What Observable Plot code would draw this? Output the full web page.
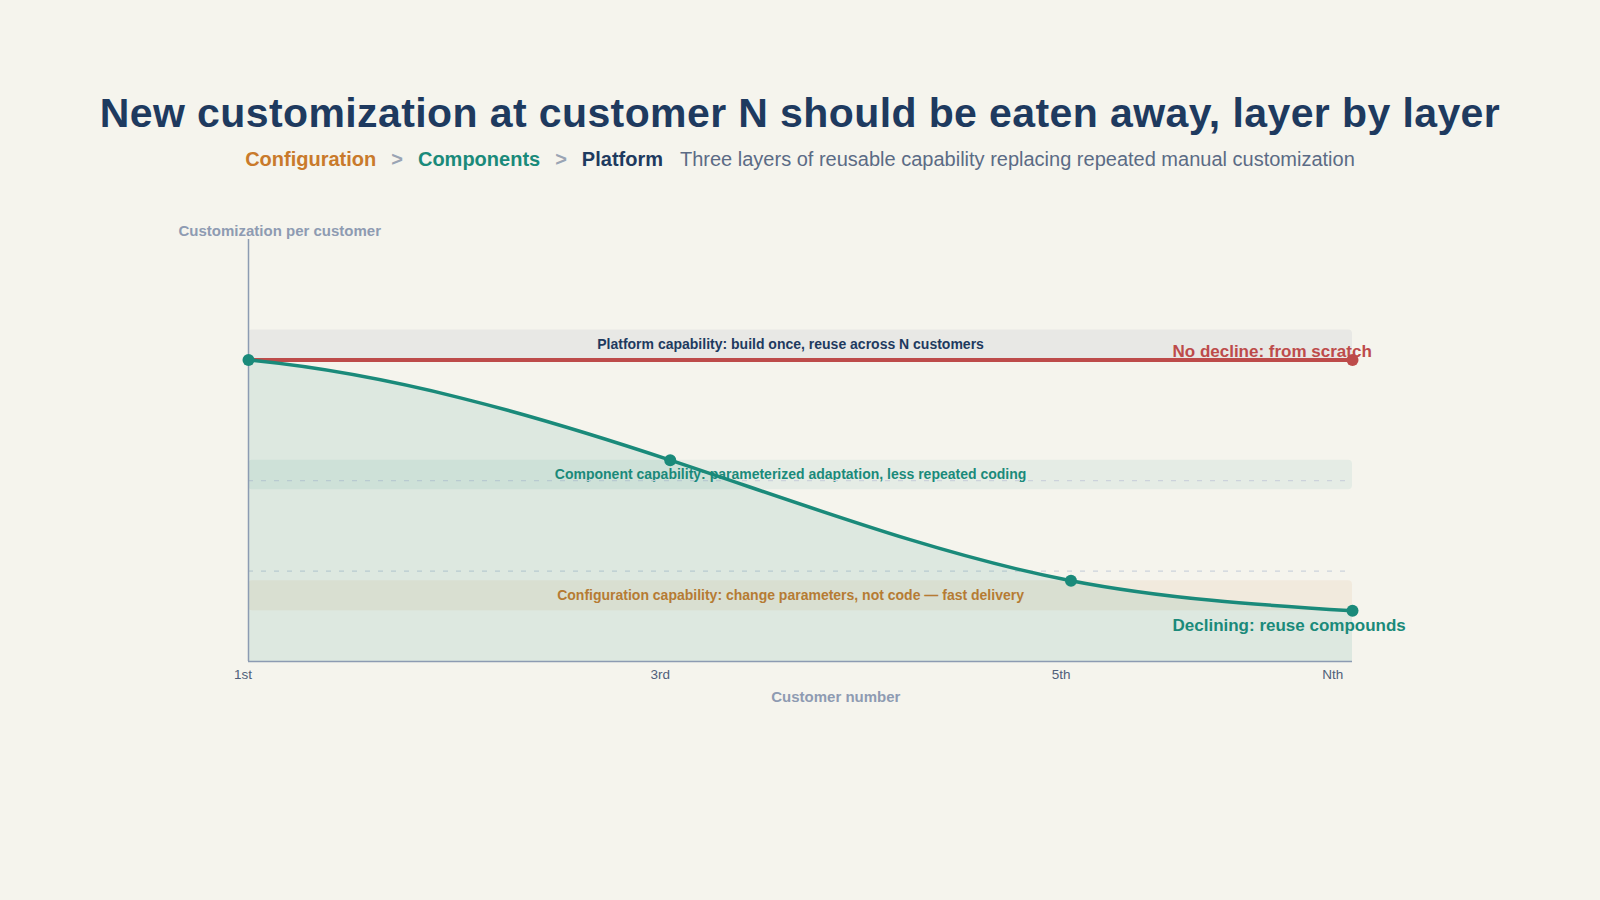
<!DOCTYPE html>
<html>
<head>
<meta charset="utf-8">
<script src="https://cdn.jsdelivr.net/npm/d3@7"></script>
<script src="https://cdn.jsdelivr.net/npm/@observablehq/plot@0.6"></script>
<style>
  html, body { margin: 0; padding: 0; background: #f5f4ed; }
  body { width: 1600px; height: 900px; overflow: hidden; position: relative;
         font-family: "Liberation Sans", Arial, Helvetica, sans-serif; }
  #title { position: absolute; left: 0; top: 93px; width: 1600px; text-align: center;
           font-size: 41px; line-height: 41px; font-weight: 700; color: #1e3a5f; white-space: nowrap;
           letter-spacing: 0.4px; }
  #subtitle { position: absolute; left: 0; top: 149px; width: 1600px; text-align: center;
              font-size: 20px; line-height: 20px; white-space: nowrap; color: #5b6b85; }
  #subtitle b { font-weight: 700; }
  #subtitle .sep { color: #9aa4b4; font-weight: 700; margin: 0 15px; }
  #subtitle .desc { margin-left: 17px; }
  #chart { position: absolute; left: 0; top: 200px; }
</style>
</head>
<body>
<div id="title"></div>
<div id="subtitle"></div>
<div id="chart"></div>
<script>
// ---- text ----
const titleText = "New customization at customer N should be eaten away, layer by layer";
const layerNames = ["Configuration", "Components", "Platform"];
const layerColors = ["#c97a2b", "#1a8a7a", "#1e3a5f"];
const subtitleText = "Three layers of reusable capability replacing repeated manual customization";
const yLabel = "Customization per customer";
const xLabel = "Customer number";

// ---- data ----
const stageX = [0, 0.382, 0.745, 1];            // customer position (1st, 3rd, 5th, Nth)
const reuseValues = [1.0, 0.668, 0.268, 0.168];  // declining: reuse compounds
const scratchX = [0, 1];
const scratchValues = [1.0, 1.0];                // no decline: from scratch
const tickLabels = ["1st", "3rd", "5th", "Nth"];
const tickPos = [-0.005, 0.373, 0.736, 0.982];
const bandNames = [
  "Platform capability: build once, reuse across N customers",
  "Component capability: parameterized adaptation, less repeated coding",
  "Configuration capability: change parameters, not code \u2014 fast delivery"
];
const bandLow = [1.0, 0.57, 0.168];
const bandHigh = [1.1, 0.668, 0.268];
const bandColors = ["#1e3a5f", "#1a8a7a", "#c97a2b"];
const bandOpacity = [0.06, 0.07, 0.08];
const bandLabelX = 0.491;
const thresholds = [0.6, 0.3];
const seriesLabels = ["No decline: from scratch", "Declining: reuse compounds"];
const xLabelPos = 0.532;

// ---- header ----
document.getElementById("title").textContent = titleText;
const sub = document.getElementById("subtitle");
layerNames.forEach((n, i) => {
  if (i > 0) { const s = document.createElement("span"); s.className = "sep"; s.textContent = ">"; sub.appendChild(s); }
  const b = document.createElement("b"); b.textContent = n; b.style.color = layerColors[i]; sub.appendChild(b);
});
const d = document.createElement("span"); d.className = "desc"; d.textContent = subtitleText; sub.appendChild(d);

// ---- smooth curve: Hermite spline, gentle start, natural end ----
function SmoothCurve(context) { this._context = context; }
SmoothCurve.prototype = {
  areaStart() { this._line = 0; },
  areaEnd() { this._line = NaN; },
  lineStart() { this._xs = []; this._ys = []; },
  point(x, y) { this._xs.push(+x); this._ys.push(+y); },
  lineEnd() {
    const X = this._xs, Y = this._ys, n = X.length, ctx = this._context;
    if (n) {
      this._line ? ctx.lineTo(X[0], Y[0]) : ctx.moveTo(X[0], Y[0]);
      if (n === 2) ctx.lineTo(X[1], Y[1]);
      else if (n > 2) {
        const h = [], s = [];
        for (let i = 0; i < n - 1; i++) { h.push(X[i + 1] - X[i]); s.push(h[i] ? (Y[i + 1] - Y[i]) / h[i] : 0); }
        const a = new Array(n).fill(0), b = new Array(n).fill(0), c = new Array(n).fill(0), r = new Array(n).fill(0);
        b[0] = 1; r[0] = 0.4 * s[0];
        for (let i = 1; i < n - 1; i++) {
          a[i] = h[i]; b[i] = 2 * (h[i - 1] + h[i]); c[i] = h[i - 1];
          r[i] = 3 * (h[i] * s[i - 1] + h[i - 1] * s[i]);
        }
        a[n - 1] = 1; b[n - 1] = 2; r[n - 1] = 3 * s[n - 2];
        for (let i = 1; i < n; i++) {
          const m = a[i] / b[i - 1];
          b[i] -= m * c[i - 1]; r[i] -= m * r[i - 1];
        }
        const t = new Array(n);
        t[n - 1] = r[n - 1] / b[n - 1];
        for (let i = n - 2; i >= 0; i--) t[i] = (r[i] - c[i] * t[i + 1]) / b[i];
        for (let i = 0; i < n - 1; i++) {
          const dx = h[i] / 3;
          ctx.bezierCurveTo(X[i] + dx, Y[i] + t[i] * dx, X[i + 1] - dx, Y[i + 1] - t[i + 1] * dx, X[i + 1], Y[i + 1]);
        }
      }
    }
    if (this._line || (this._line !== 0 && n === 1)) ctx.closePath();
    this._line = 1 - this._line;
  }
};
const smoothCurve = (context) => new SmoothCurve(context);

// ---- tables ----
const reuse = stageX.map((x, i) => ({x, y: reuseValues[i]}));
const scratch = scratchX.map((x, i) => ({x, y: scratchValues[i]}));
const ticks = tickLabels.map((t, i) => ({x: tickPos[i], t}));
const bands = bandNames.map((name, i) => ({name, lo: bandLow[i], hi: bandHigh[i], color: bandColors[i], op: bandOpacity[i]}));

const teal = "#1a8a7a", red = "#bd4b4a", axisColor = "#8c9bb2";

const chart = Plot.plot({
  width: 1600, height: 520,
  marginLeft: 248, marginRight: 248, marginTop: 39, marginBottom: 59,
  x: {domain: [0, 1], axis: null},
  y: {domain: [0, 1.4], axis: null},
  style: {background: "transparent", fontFamily: "Liberation Sans, Arial, Helvetica, sans-serif"},
  marks: [
    ...bands.map(b => Plot.rect([b], {x1: 0, x2: 1, y1: "lo", y2: "hi", fill: b.color, fillOpacity: b.op, rx: 4})),
    ...bands.map(b => Plot.text([b], {x: bandLabelX, y: d => (d.lo + d.hi) / 2, text: "name", fill: b.color,
                                       fontSize: 14, fontWeight: 700, lineAnchor: "middle"})),
    Plot.ruleY(thresholds, {stroke: "#ccd2db", strokeWidth: 1.2, strokeDasharray: "5,8"}),
    Plot.areaY(reuse, {x: "x", y: "y", fill: teal, fillOpacity: 0.11, curve: smoothCurve}),
    Plot.ruleX([0], {y1: 0, y2: 1.4, stroke: axisColor, strokeWidth: 1.5}),
    Plot.ruleY([0], {x1: 0, x2: 1, stroke: axisColor, strokeWidth: 1.5}),
    Plot.line(scratch, {x: "x", y: "y", stroke: red, strokeWidth: 4}),
    Plot.line(reuse, {x: "x", y: "y", stroke: teal, strokeWidth: 3.5, curve: smoothCurve}),
    Plot.dot([scratch[scratch.length - 1]], {x: "x", y: "y", r: 6, fill: red}),
    Plot.dot(reuse, {x: "x", y: "y", r: 6, fill: teal}),
    Plot.text([seriesLabels[0]], {x: scratchX[1], y: scratchValues[1], textAnchor: "start", dx: -180, dy: -3,
                                  lineAnchor: "bottom", fontSize: 17, fontWeight: 700, fill: red}),
    Plot.text([seriesLabels[1]], {x: stageX[3], y: reuseValues[3], textAnchor: "start", dx: -180, dy: 20,
                                  lineAnchor: "bottom", fontSize: 17, fontWeight: 700, fill: teal}),
    Plot.text(ticks, {x: "x", text: "t", frameAnchor: "bottom", dy: 17, lineAnchor: "bottom",
                      fontSize: 13.5, fill: "#4f5f7a"}),
    Plot.text([yLabel], {frameAnchor: "top-left", dx: -70, dy: -4, textAnchor: "start", lineAnchor: "bottom",
                         fontSize: 15, fontWeight: 700, fill: "#8e9bb2"}),
    Plot.text([xLabel], {x: xLabelPos, frameAnchor: "bottom", dy: 40, lineAnchor: "bottom",
                         fontSize: 15, fontWeight: 700, fill: "#8e9bb2"})
  ]
});
document.getElementById("chart").appendChild(chart);
</script>
</body>
</html>
